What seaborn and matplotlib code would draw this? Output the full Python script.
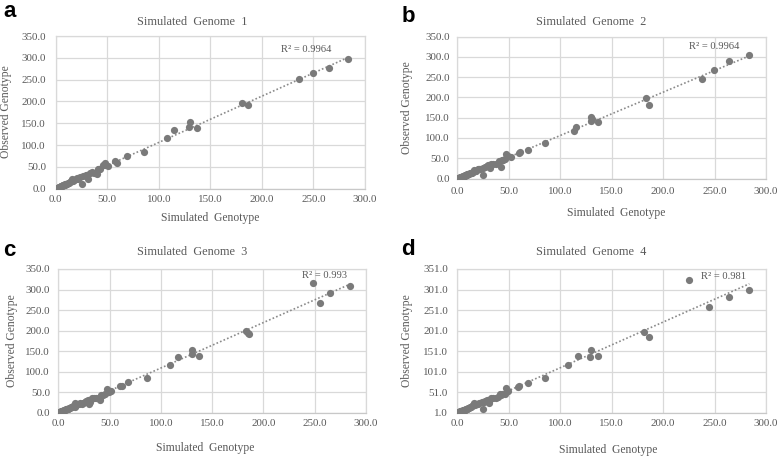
import matplotlib
matplotlib.use("Agg")
import matplotlib.pyplot as plt
import seaborn as sns

# ---------------- data ----------------
titles = ["Simulated  Genome  1", "Simulated  Genome  2", "Simulated  Genome  3", "Simulated  Genome  4"]
panel_letters = ["a", "b", "c", "d"]
r2_labels = ["R² = 0.9964", "R² = 0.9964", "R² = 0.993", "R² = 0.981"]
x_label = "Simulated  Genotype"
y_label = "Observed Genotype"

x_ticks = [0, 50, 100, 150, 200, 250, 300]
y_ticks_abc = [0, 50, 100, 150, 200, 250, 300, 350]
y_ticks_d = [1, 51, 101, 151, 201, 251, 301, 351]

sim1 = [0.5, 1.0, 1.5, 2.0, 2.5, 3.0, 3.5, 4.0, 4.5, 5.0, 5.5, 6.0, 6.5, 7.0, 7.5, 8.0, 8.5, 9.0, 9.5, 10.0,
        11.0, 12.0, 13.0, 14.0, 15.0, 16.0, 17.0, 18.0, 20.0, 21.0, 22.0, 24.0, 25.6, 27.0, 29.0, 30.0, 31.0,
        33.0, 35.0, 37.0, 40.0, 41.0, 42.0, 43.0, 46.0, 47.5, 48.0, 51.0, 58.0, 59.5, 69.0, 86.0, 108.0,
        115.0, 129.5, 130.0, 137.0, 181.0, 187.0, 236.0, 250.0, 265.0, 284.0]
obs1 = [0.6, 1.3, 1.7, 2.4, 2.6, 3.4, 3.8, 4.3, 5.0, 5.4, 5.9, 6.6, 6.8, 7.6, 7.9, 8.8, 8.4, 9.6, 10.2, 10.9,
        11.8, 13.5, 12.8, 15.5, 17.5, 23.5, 18.5, 20.0, 22.0, 24.5, 23.0, 26.5, 10.0, 29.0, 30.5, 31.0, 21.5,
        37.0, 38.5, 36.0, 34.0, 44.5, 45.0, 46.0, 54.0, 59.0, 55.0, 53.0, 63.0, 59.0, 74.0, 85.0, 115.5,
        134.5, 141.0, 152.0, 139.5, 197.0, 191.5, 251.0, 266.0, 277.0, 297.5]

sim2 = [0.5, 1.0, 1.5, 2.0, 2.5, 3.0, 3.5, 4.0, 4.5, 5.0, 5.5, 6.0, 6.5, 7.0, 7.5, 8.0, 8.5, 9.0, 9.5, 10.0,
        11.0, 12.0, 13.0, 14.0, 15.4, 16.0, 17.0, 18.0, 20.0, 21.0, 22.0, 24.5, 25.0, 27.0, 29.0, 30.0, 31.6,
        33.0, 35.0, 37.0, 40.0, 42.0, 43.0, 44.4, 46.2, 47.5, 49.4, 52.0, 59.8, 61.0, 68.3, 85.0, 113.5,
        115.1, 130.0, 130.0, 130.5, 137.0, 183.0, 186.0, 238.0, 249.7, 264.0, 283.8]
obs2 = [0.5, 1.2, 1.6, 2.2, 2.9, 3.2, 3.9, 4.2, 4.9, 5.2, 6.0, 6.3, 7.0, 7.4, 8.1, 8.5, 9.0, 9.3, 10.4, 10.6,
        11.6, 12.8, 13.6, 14.8, 16.8, 21.0, 19.0, 19.5, 22.5, 23.0, 24.0, 25.5, 8.0, 28.0, 30.0, 33.0, 25.0,
        35.0, 37.0, 36.5, 44.0, 29.0, 45.0, 46.0, 47.4, 60.0, 56.0, 52.0, 62.0, 65.0, 70.0, 88.0, 118.0,
        128.0, 142.6, 150.8, 146.5, 138.5, 197.5, 181.0, 246.7, 268.0, 289.3, 304.0]

sim3 = [0.5, 1.0, 1.7, 2.0, 2.5, 3.0, 3.5, 4.0, 4.5, 5.0, 5.5, 6.0, 6.5, 7.0, 7.5, 8.0, 8.5, 9.0, 9.5, 10.0,
        11.0, 12.0, 13.0, 14.0, 16.3, 16.0, 17.0, 18.0, 20.0, 21.0, 22.8, 24.0, 26.0, 27.0, 29.0, 30.8, 30.0,
        32.5, 35.0, 37.0, 40.6, 41.0, 42.0, 43.9, 46.0, 47.0, 49.7, 51.0, 60.0, 62.0, 68.2, 86.0, 108.7,
        116.8, 130.8, 130.8, 137.5, 183.0, 184.6, 185.6, 248.4, 255.6, 264.7, 284.3]
obs3 = [0.5, 1.1, 1.7, 2.3, 2.7, 3.3, 3.6, 4.4, 4.7, 5.3, 5.7, 6.5, 6.6, 7.5, 7.8, 8.7, 8.6, 9.5, 10.0, 10.8,
        11.7, 13.2, 13.0, 15.2, 14.6, 22.5, 18.3, 20.0, 21.5, 22.5, 20.5, 24.5, 25.0, 28.0, 30.5, 27.0, 22.0,
        36.6, 36.5, 37.0, 36.6, 31.0, 44.0, 43.0, 45.0, 57.0, 51.0, 52.0, 66.0, 64.0, 74.0, 83.7, 116.0,
        136.0, 141.8, 153.0, 138.5, 198.4, 194.0, 191.0, 315.6, 268.0, 292.6, 308.0]

sim4 = [0.5, 1.0, 1.5, 2.4, 2.5, 3.0, 3.5, 4.0, 4.5, 5.0, 5.5, 6.0, 6.5, 7.0, 7.5, 8.0, 8.5, 9.0, 9.5, 10.0,
        11.0, 12.0, 13.0, 14.0, 15.4, 16.0, 17.0, 18.0, 20.0, 21.0, 23.5, 24.5, 26.0, 27.0, 29.0, 30.7, 31.0,
        33.0, 35.0, 37.0, 39.7, 41.3, 42.0, 43.0, 46.0, 47.2, 48.0, 49.5, 58.4, 60.0, 68.9, 85.0, 107.8,
        117.5, 128.4, 130.0, 137.0, 181.6, 186.1, 225.3, 244.5, 264.0, 283.8]
obs4 = [1.5, 2.0, 2.6, 4.4, 3.6, 4.3, 4.5, 5.4, 5.6, 6.3, 6.5, 7.2, 7.4, 8.3, 8.5, 9.6, 9.4, 10.4, 10.8, 11.7,
        12.4, 14.2, 13.8, 16.3, 19.8, 23.5, 19.2, 21.0, 22.5, 23.5, 26.0, 9.0, 26.0, 29.0, 31.0, 29.5, 25.0,
        36.0, 37.5, 36.0, 38.5, 46.5, 45.0, 46.0, 47.0, 61.0, 54.0, 53.8, 63.6, 66.0, 72.6, 86.0, 117.0,
        140.0, 137.0, 152.6, 138.6, 197.0, 184.7, 324.8, 259.0, 283.0, 299.4]

sims = [sim1, sim2, sim3, sim4]
obss = [obs1, obs2, obs3, obs4]
yticks_all = [y_ticks_abc, y_ticks_abc, y_ticks_abc, y_ticks_d]

# ---------------- layout (pixels) ----------------
W, H = 778, 457
# plot area: left, top, right, bottom
rects = [(55.6, 36.0, 365.0, 188.8), (457.5, 36.7, 766.0, 178.5),
         (58.3, 269.0, 366.0, 412.7), (457.5, 269.0, 766.0, 412.7)]
title_pos = [(192, 21.7), (591, 21.7), (192, 252), (591, 252)]
xlab_pos = [(210, 218), (616, 213), (205, 448), (608, 450)]
ylab_pos = [(6, 112), (407, 108), (12, 341), (407, 341)]
r2_pos = [(281, 49.3), (688.7, 46.7), (301.7, 275), (700.7, 276.7)]
letter_pos = [(3, 16.7), (401.5, 21.7), (3, 256.3), (401.5, 254.7)]
xpad = [4.8, 6.0, 4.8, 4.8]
ypad = [7.0, 5.6, 6.0, 6.8]

sns.set_theme(style="white")
plt.rcParams["font.family"] = ["Liberation Serif", "DejaVu Serif"]

TXT = "#595959"
GRID = "#d9d9d9"
DOT = "#7a7a7a"

fig = plt.figure(figsize=(W / 100, H / 100), dpi=100)
fig.patch.set_facecolor("white")

for i in range(4):
    l, t, r, b = rects[i]
    ax = fig.add_axes([l / W, 1 - b / H, (r - l) / W, (b - t) / H])
    sns.regplot(x=sims[i], y=obss[i], ax=ax, ci=None, truncate=True, color=DOT,
                scatter_kws=dict(s=27, linewidths=0, alpha=1, zorder=3),
                line_kws=dict(color="#8a8a8a", lw=1.2, ls=(0, (1, 1.3)), zorder=2))
    yt = yticks_all[i]
    ax.set_xlim(x_ticks[0], x_ticks[-1])
    ax.set_ylim(yt[0], yt[-1])
    ax.set_xticks(x_ticks)
    ax.set_xticklabels([f"{v:.1f}" for v in x_ticks])
    ax.set_yticks(yt)
    ax.set_yticklabels([f"{v:.1f}" for v in yt])
    ax.grid(True, color=GRID, lw=0.9)
    ax.set_axisbelow(True)
    ax.tick_params(axis="both", length=0, labelsize=7.9, colors=TXT)
    ax.tick_params(axis="x", pad=xpad[i])
    ax.tick_params(axis="y", pad=ypad[i])
    for s in ax.spines.values():
        s.set_color(GRID)
        s.set_linewidth(0.9)
    ax.spines["bottom"].set_color("#c8c8c8")
    ax.set_xlabel("")
    ax.set_ylabel("")

    tx, ty = title_pos[i]
    fig.text(tx / W, 1 - ty / H, titles[i], ha="center", va="center", fontsize=8.8, color=TXT)
    xx, xy = xlab_pos[i]
    fig.text(xx / W, 1 - xy / H, x_label, ha="center", va="center", fontsize=8.4, color=TXT)
    yx, yy = ylab_pos[i]
    fig.text(yx / W, 1 - yy / H, y_label, ha="center", va="center", rotation=90, fontsize=8.4, color=TXT)
    rx, ry = r2_pos[i]
    fig.text(rx / W, 1 - ry / H, r2_labels[i], ha="left", va="center", fontsize=7.6, color=TXT)
    lx, ly = letter_pos[i]
    fig.text(lx / W, 1 - ly / H, panel_letters[i], ha="left", va="baseline", fontsize=16,
             fontweight="bold", color="black", family=["Liberation Sans", "DejaVu Sans"])

fig.savefig("out.png", dpi=100, facecolor="white")
